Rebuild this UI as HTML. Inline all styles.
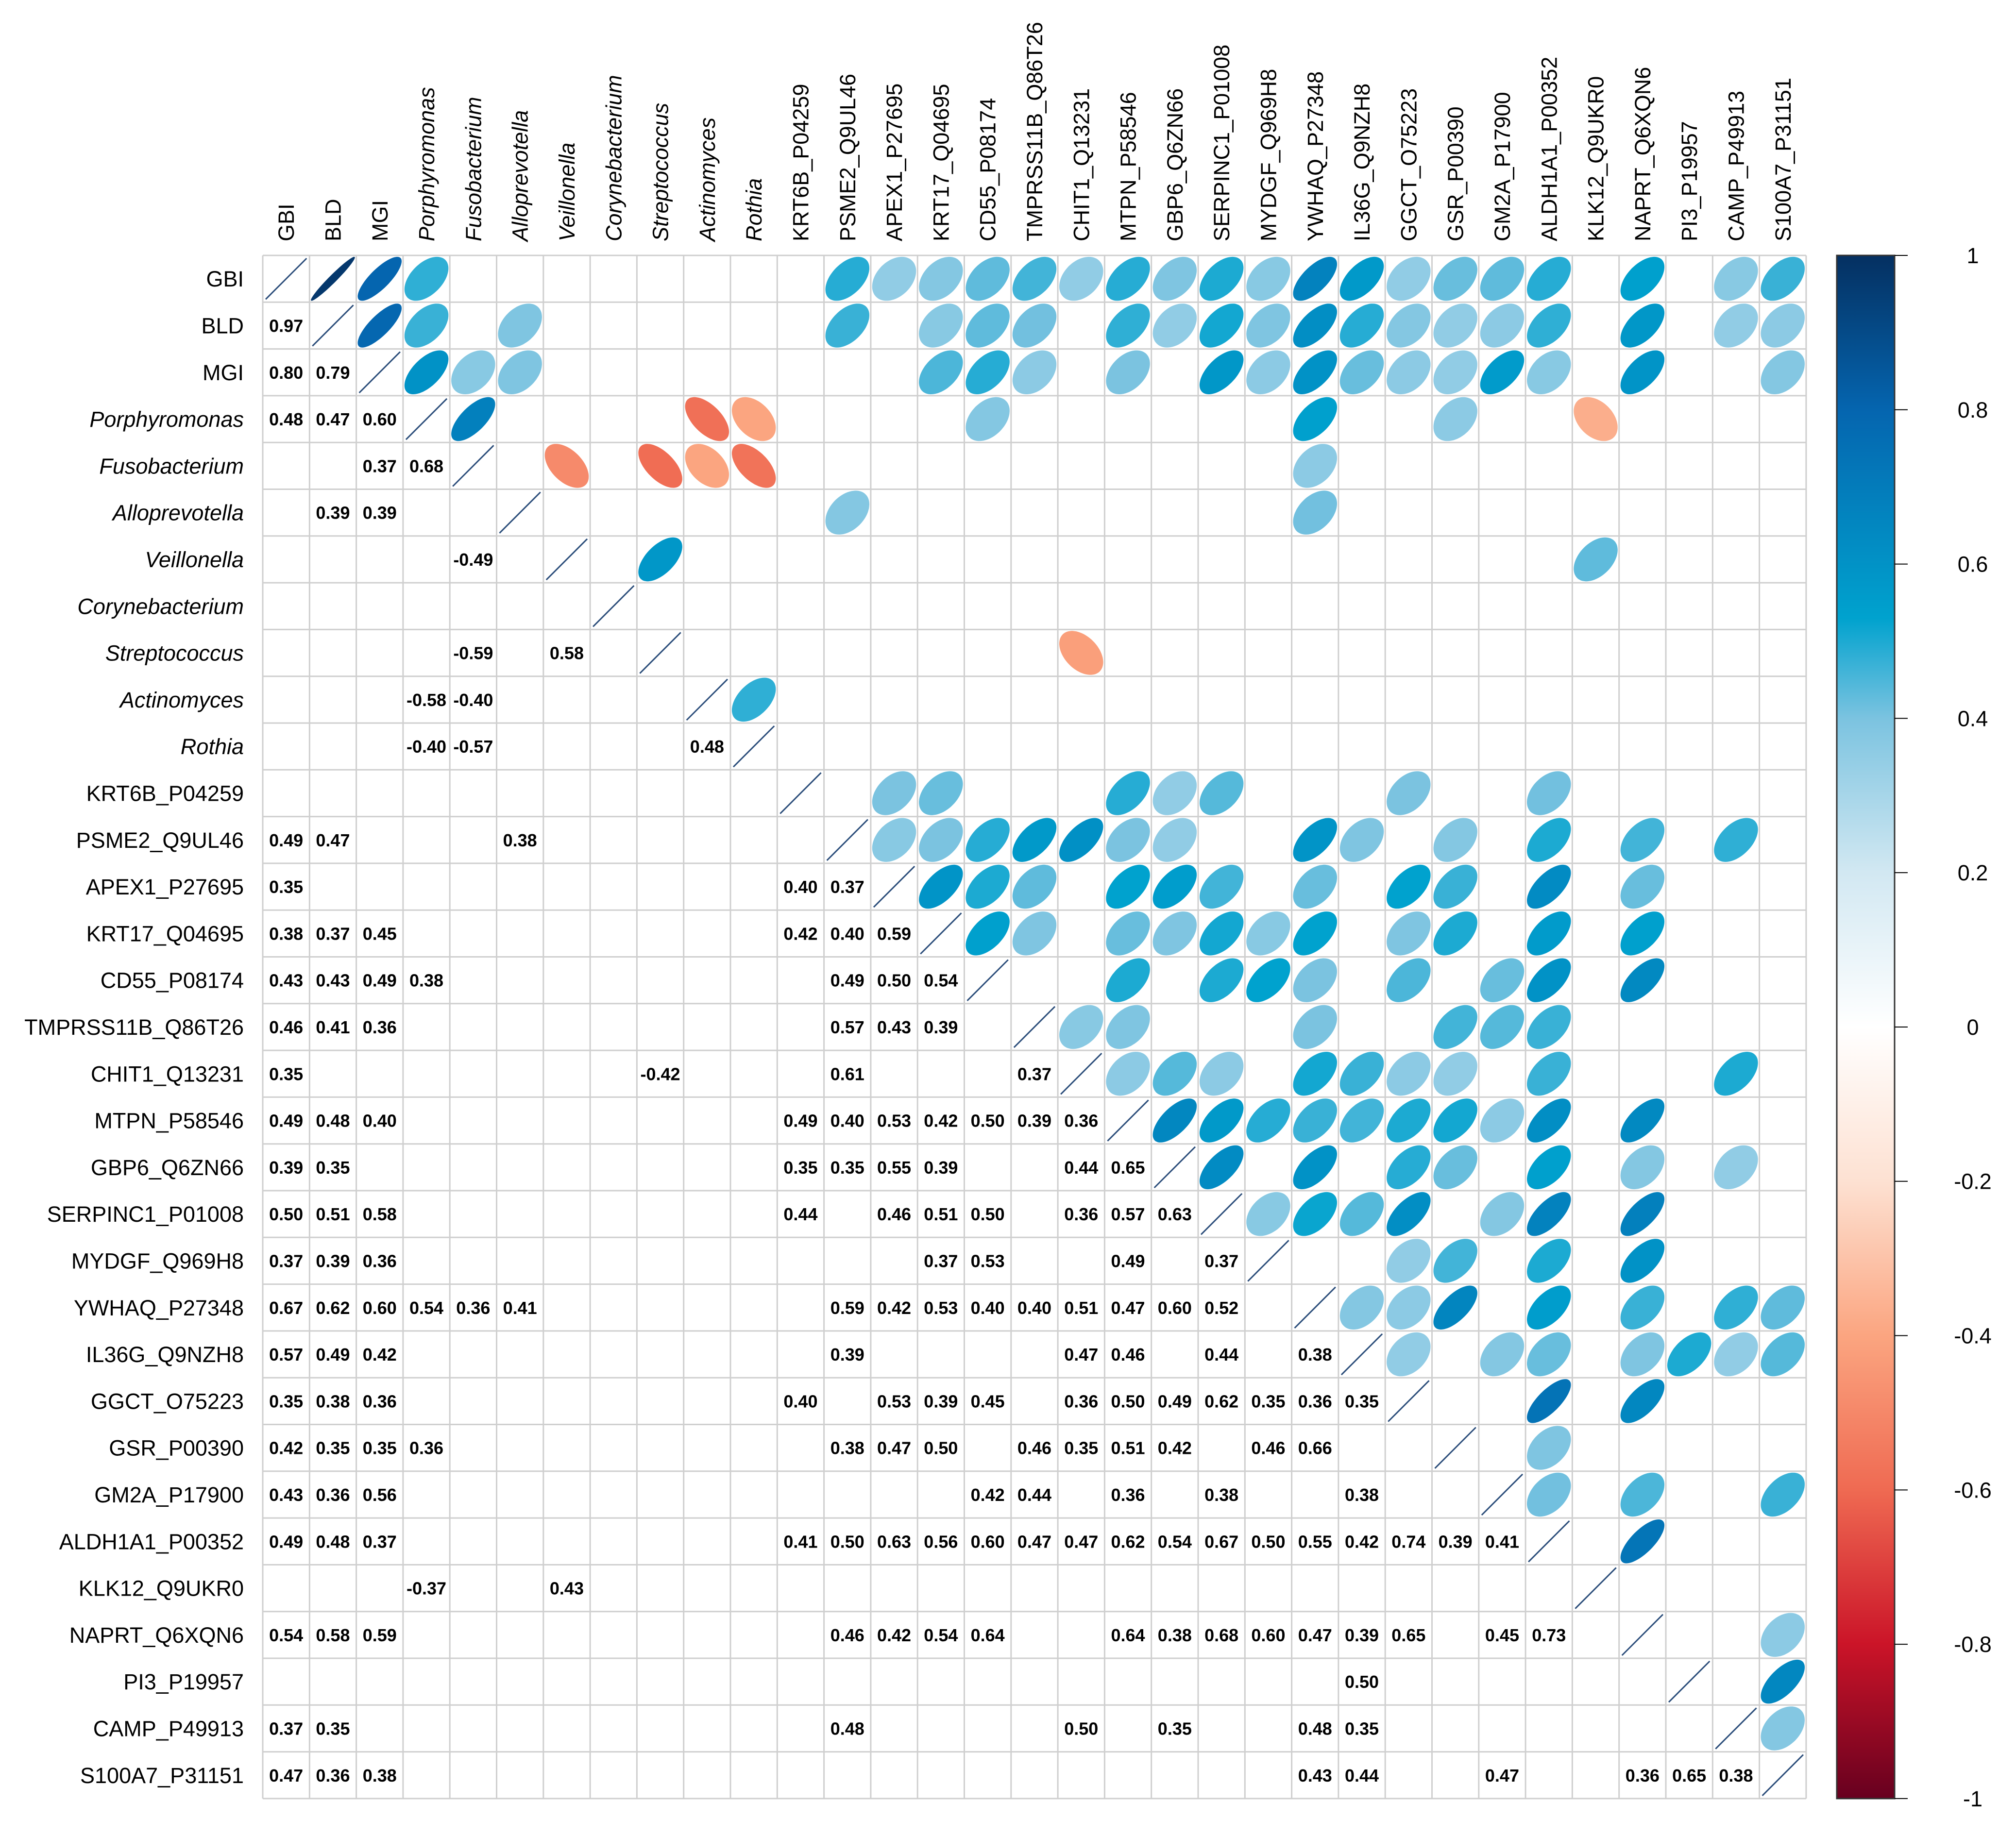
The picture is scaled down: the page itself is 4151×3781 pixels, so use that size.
<!DOCTYPE html>
<html><head><meta charset="utf-8"><title>Correlation matrix</title>
<style>html,body{margin:0;padding:0;background:#fff;}svg{display:block;}</style>
</head><body>
<svg id="chart" xmlns="http://www.w3.org/2000/svg" width="4151" height="3781" viewBox="0 0 4151 3781">
<defs>
<linearGradient id="cbgrad" x1="0" y1="0" x2="0" y2="1">
<stop offset="0" stop-color="#053061"/><stop offset="0.1" stop-color="#0565AF"/><stop offset="0.235" stop-color="#00A2CE"/><stop offset="0.3" stop-color="#7BC3E0"/><stop offset="0.4" stop-color="#D2E8F2"/><stop offset="0.5" stop-color="#FFFFFF"/><stop offset="0.6" stop-color="#FDE1D2"/><stop offset="0.7" stop-color="#FBA580"/><stop offset="0.8" stop-color="#EF6A52"/><stop offset="0.9" stop-color="#CB1428"/><stop offset="1" stop-color="#67001F"/>
</linearGradient>
</defs>
<g id="grid-layer"></g>
<g id="marks-layer"></g>
<g id="labels-layer"></g>
<g id="colorbar"></g>
</svg>
<script>
const varNames = ["GBI","BLD","MGI","Porphyromonas","Fusobacterium","Alloprevotella","Veillonella","Corynebacterium","Streptococcus","Actinomyces","Rothia","KRT6B_P04259","PSME2_Q9UL46","APEX1_P27695","KRT17_Q04695","CD55_P08174","TMPRSS11B_Q86T26","CHIT1_Q13231","MTPN_P58546","GBP6_Q6ZN66","SERPINC1_P01008","MYDGF_Q969H8","YWHAQ_P27348","IL36G_Q9NZH8","GGCT_O75223","GSR_P00390","GM2A_P17900","ALDH1A1_P00352","KLK12_Q9UKR0","NAPRT_Q6XQN6","PI3_P19957","CAMP_P49913","S100A7_P31151"];
const italicVars = ["Porphyromonas","Fusobacterium","Alloprevotella","Veillonella","Corynebacterium","Streptococcus","Actinomyces","Rothia"];
const pairRow = [1, 2,2, 3,3,3, 4,4, 5,5, 6, 8,8, 9,9, 10,10,10,
 12,12,12, 13,13,13, 14,14,14,14,14,14, 15,15,15,15,15,15,15, 16,16,16,16,16,16,
 17,17,17,17, 18,18,18,18,18,18,18,18,18,18, 19,19,19,19,19,19,19,19,
 20,20,20,20,20,20,20,20,20,20, 21,21,21,21,21,21,21,
 22,22,22,22,22,22,22,22,22,22,22,22,22,22,22, 23,23,23,23,23,23,23,23,
 24,24,24,24,24,24,24,24,24,24,24,24,24,24, 25,25,25,25,25,25,25,25,25,25,25,25,25,
 26,26,26,26,26,26,26,26, 27,27,27,27,27,27,27,27,27,27,27,27,27,27,27,27,27,27,27,
 28,28, 29,29,29,29,29,29,29,29,29,29,29,29,29,29,29,29, 30,
 31,31,31,31,31,31,31, 32,32,32,32,32,32,32,32,32];
const pairCol = [0, 0,1, 0,1,2, 2,3, 1,2, 4, 4,6, 3,4, 3,4,9,
 0,1,5, 0,11,12, 0,1,2,11,12,13, 0,1,2,3,12,13,14, 0,1,2,12,13,14,
 0,8,12,16, 0,1,2,11,12,13,14,15,16,17, 0,1,11,12,13,14,17,18,
 0,1,2,11,13,14,15,17,18,19, 0,1,2,14,15,18,20,
 0,1,2,3,4,5,12,13,14,15,16,17,18,19,20, 0,1,2,12,17,18,20,22,
 0,1,2,11,13,14,15,17,18,19,20,21,22,23, 0,1,2,3,12,13,14,16,17,18,19,21,22,
 0,1,2,15,16,18,20,23, 0,1,2,11,12,13,14,15,16,17,18,19,20,21,22,23,24,25,26,
 3,6, 0,1,2,12,13,14,15,18,19,20,21,22,23,24,26,27, 23,
 0,1,12,17,19,22,23, 0,1,2,22,23,26,29,30,31];
const pairValue = [0.97, 0.80,0.79, 0.48,0.47,0.60, 0.37,0.68, 0.39,0.39, -0.49, -0.59,0.58, -0.58,-0.40, -0.40,-0.57,0.48,
 0.49,0.47,0.38, 0.35,0.40,0.37, 0.38,0.37,0.45,0.42,0.40,0.59, 0.43,0.43,0.49,0.38,0.49,0.50,0.54, 0.46,0.41,0.36,0.57,0.43,0.39,
 0.35,-0.42,0.61,0.37, 0.49,0.48,0.40,0.49,0.40,0.53,0.42,0.50,0.39,0.36, 0.39,0.35,0.35,0.35,0.55,0.39,0.44,0.65,
 0.50,0.51,0.58,0.44,0.46,0.51,0.50,0.36,0.57,0.63, 0.37,0.39,0.36,0.37,0.53,0.49,0.37,
 0.67,0.62,0.60,0.54,0.36,0.41,0.59,0.42,0.53,0.40,0.40,0.51,0.47,0.60,0.52, 0.57,0.49,0.42,0.39,0.47,0.46,0.44,0.38,
 0.35,0.38,0.36,0.40,0.53,0.39,0.45,0.36,0.50,0.49,0.62,0.35,0.36,0.35, 0.42,0.35,0.35,0.36,0.38,0.47,0.50,0.46,0.35,0.51,0.42,0.46,0.66,
 0.43,0.36,0.56,0.42,0.44,0.36,0.38,0.38, 0.49,0.48,0.37,0.41,0.50,0.63,0.56,0.60,0.47,0.47,0.62,0.54,0.67,0.50,0.55,0.42,0.74,0.39,0.41,
 -0.37,0.43, 0.54,0.58,0.59,0.46,0.42,0.54,0.64,0.64,0.38,0.68,0.60,0.47,0.39,0.65,0.45,0.73, 0.50,
 0.37,0.35,0.48,0.50,0.35,0.48,0.35, 0.47,0.36,0.38,0.43,0.44,0.47,0.36,0.65,0.38];
const colorbarTicks = [1,0.8,0.6,0.4,0.2,0,-0.2,-0.4,-0.6,-0.8,-1];
const colorbarLabels = ["1","0.8","0.6","0.4","0.2","0","-0.2","-0.4","-0.6","-0.8","-1"];

const NS="http://www.w3.org/2000/svg";
const N=varNames.length, L=541, T=526, C=96.3;
const colStops=[[1,"#053061"],[0.8,"#0565AF"],[0.53,"#00A2CE"],[0.4,"#7BC3E0"],[0.2,"#D2E8F2"],[0,"#FFFFFF"],[-0.2,"#FDE1D2"],[-0.4,"#FBA580"],[-0.6,"#EF6A52"],[-0.8,"#CB1428"],[-1,"#67001F"]];
function hx(h){return [1,3,5].map(i=>parseInt(h.substr(i,2),16));}
function colorFor(r){for(let i=0;i<colStops.length-1;i++){const a=colStops[i],b=colStops[i+1];if(r<=a[0]&&r>=b[0]){const t=(a[0]-r)/(a[0]-b[0]);const ca=hx(a[1]),cb=hx(b[1]);return "rgb("+ca.map((v,k)=>Math.round(v+(cb[k]-v)*t)).join(",")+")";}}return "#fff";}
function xPos(j){return L+j*C;}
function yPos(i){return T+i*C;}
function yBar(v){return T+(1-v)/2*(N*C);}
function mk(tag,attrs,parent){const e=document.createElementNS(NS,tag);for(const k in attrs)e.setAttribute(k,attrs[k]);parent.appendChild(e);return e;}
const grid=document.getElementById("grid-layer"),marks=document.getElementById("marks-layer"),labels=document.getElementById("labels-layer"),cb=document.getElementById("colorbar");
mk("rect",{x:L,y:T,width:N*C,height:N*C,fill:"#fff"},grid);
for(let k=0;k<=N;k++){
  const l1=mk("line",{x1:xPos(k),y1:T,x2:xPos(k),y2:T+N*C,stroke:"#cfcfcf","stroke-width":3},grid);
  
  
  const l2=mk("line",{x1:L,y1:yPos(k),x2:L+N*C,y2:yPos(k),stroke:"#cfcfcf","stroke-width":3},grid);
  
  
}
for(let i=0;i<N;i++){
  const d=mk("line",{x1:xPos(i)+6,y1:yPos(i+1)-6,x2:xPos(i+1)-6,y2:yPos(i)+6,stroke:"#2b4d7a","stroke-width":3},marks);
  
  
}
function ellipsePath(cx,cy,r){
  const s=0.47*C,dd=Math.acos(Math.max(-1,Math.min(1,r)));let p="";
  for(let k=0;k<=72;k++){const t=k/72*2*Math.PI;const x=cx+s*Math.cos(t+dd/2),y=cy-s*Math.cos(t-dd/2);p+=(k?"L":"M")+x.toFixed(1)+" "+y.toFixed(1);}
  return p+"Z";
}
for(let n=0;n<pairValue.length;n++){
  const i=pairRow[n],j=pairCol[n],r=pairValue[n];
  const t=mk("text",{x:xPos(j)+C/2,y:yPos(i)+C/2+13,"text-anchor":"middle","font-family":"Liberation Sans, sans-serif","font-weight":"bold","font-size":36,fill:"#000"},marks);
  t.textContent=r.toFixed(2);
  
  
  const e=mk("path",{d:ellipsePath(xPos(i)+C/2,yPos(j)+C/2,r),fill:colorFor(r)},marks);
  
  
}
for(let i=0;i<N;i++){
  const it=italicVars.indexOf(varNames[i])>=0;
  const rl=mk("text",{x:502,y:yPos(i)+C/2+16,"text-anchor":"end","font-family":"Liberation Sans, sans-serif","font-size":45,"font-style":it?"italic":"normal",fill:"#000"},labels);
  rl.textContent=varNames[i];
  
  
  const cx=xPos(i)+C/2+16;
  const cl=mk("text",{x:cx,y:497,transform:"rotate(-90 "+cx+" 497)","text-anchor":"start","font-family":"Liberation Sans, sans-serif","font-size":45,"font-style":it?"italic":"normal",fill:"#000"},labels);
  cl.textContent=varNames[i];
  
  
}
const bar=mk("rect",{x:3782,y:yBar(1),width:119,height:yBar(-1)-yBar(1),fill:"url(#cbgrad)",stroke:"#333","stroke-width":3},cb);


for(let k=0;k<colorbarTicks.length;k++){
  const y=yBar(colorbarTicks[k]);
  const tk=mk("line",{x1:3901,y1:y,x2:3928,y2:y,stroke:"#000","stroke-width":2},cb);
  
  
  const tl=mk("text",{x:4062,y:y+16,"text-anchor":"middle","font-family":"Liberation Sans, sans-serif","font-size":45,fill:"#000"},cb);
  tl.textContent=colorbarLabels[k];
  
  
}
</script>
</body></html>
